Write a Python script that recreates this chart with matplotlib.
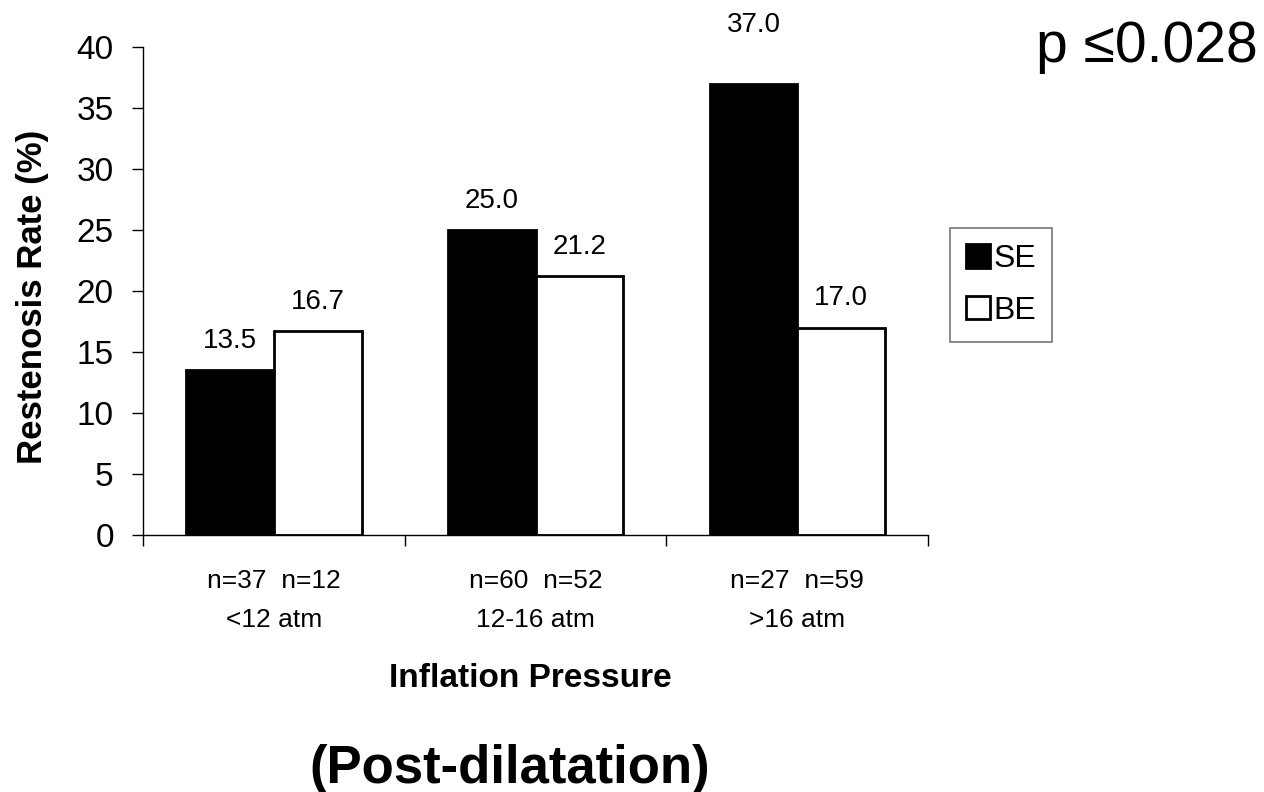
import matplotlib
matplotlib.use("Agg")
import matplotlib.pyplot as plt
import numpy as np

plt.rcParams['font.family'] = ['Liberation Sans', 'DejaVu Sans']

categories = ["<12 atm", "12-16 atm", ">16 atm"]
se_values = [13.5, 25.0, 37.0]
be_values = [16.7, 21.2, 17.0]
se_n = [37, 60, 27]
be_n = [12, 52, 59]
series_names = ["SE", "BE"]

fig = plt.figure(figsize=(12.64, 7.92), dpi=100)
ax = fig.add_axes([0.1131, 0.3245, 0.6212, 0.6162])

x = np.arange(len(categories))
w = 0.335
b1 = ax.bar(x - w/2, se_values, w, color="black", edgecolor="black", linewidth=2.0, label=series_names[0])
b2 = ax.bar(x + w/2, be_values, w, color="white", edgecolor="black", linewidth=2.0, label=series_names[1])

for bars, vals in ((b1, se_values), (b2, be_values)):
    for r, v in zip(bars, vals):
        off = 37 if v >= 35 else 16
        ax.annotate(f"{v:.1f}", (r.get_x() + r.get_width()/2, v), xytext=(0, off),
                    textcoords="offset points", ha="center", va="baseline", fontsize=20,
                    annotation_clip=False)

ax.set_xlim(-0.5, 2.5)
ax.set_ylim(0, 40)
ax.set_yticks(np.arange(0, 41, 5))
ax.tick_params(axis="y", labelsize=24, direction="out", length=8, width=1, pad=13)
ax.set_xticks([-0.5, 0.5, 1.5, 2.5])
ax.set_xticklabels([])
ax.tick_params(axis="x", direction="out", length=8, width=1)
for i, c in enumerate(categories):
    ax.text(i, -4.34, f"n={se_n[i]}  n={be_n[i]}", ha="center", va="baseline", fontsize=19)
    ax.text(i, -7.54, c, ha="center", va="baseline", fontsize=19)

ax.spines["top"].set_visible(False)
ax.spines["right"].set_visible(False)
ax.spines["left"].set_linewidth(1.0)
ax.spines["bottom"].set_linewidth(1.0)

fig.text(33/1264, 1 - 297/792, "Restenosis Rate (%)", rotation=90, ha="center", va="center",
         fontsize=25, fontweight="bold")
fig.text(530/1264, 1 - 687/792, "Inflation Pressure", ha="center", va="baseline", fontsize=24, fontweight="bold")
fig.text(510/1264, 1 - 783/792, "(Post-dilatation)", ha="center", va="baseline", fontsize=38, fontweight="bold")
fig.text(1258/1264, 1 - 62/792, "p \u22640.028", ha="right", va="baseline", fontsize=41)

leg = ax.legend(loc="upper left", bbox_to_anchor=(950/1264, 1 - 228/792), bbox_transform=fig.transFigure,
                fontsize=23, handlelength=0.75, handleheight=0.75, handletextpad=0.1,
                frameon=True, fancybox=False, edgecolor="#555555", borderpad=0.5, labelspacing=0.68,
                borderaxespad=0)
leg.get_frame().set_linewidth(1.2)

fig.savefig("out.png", dpi=100)
